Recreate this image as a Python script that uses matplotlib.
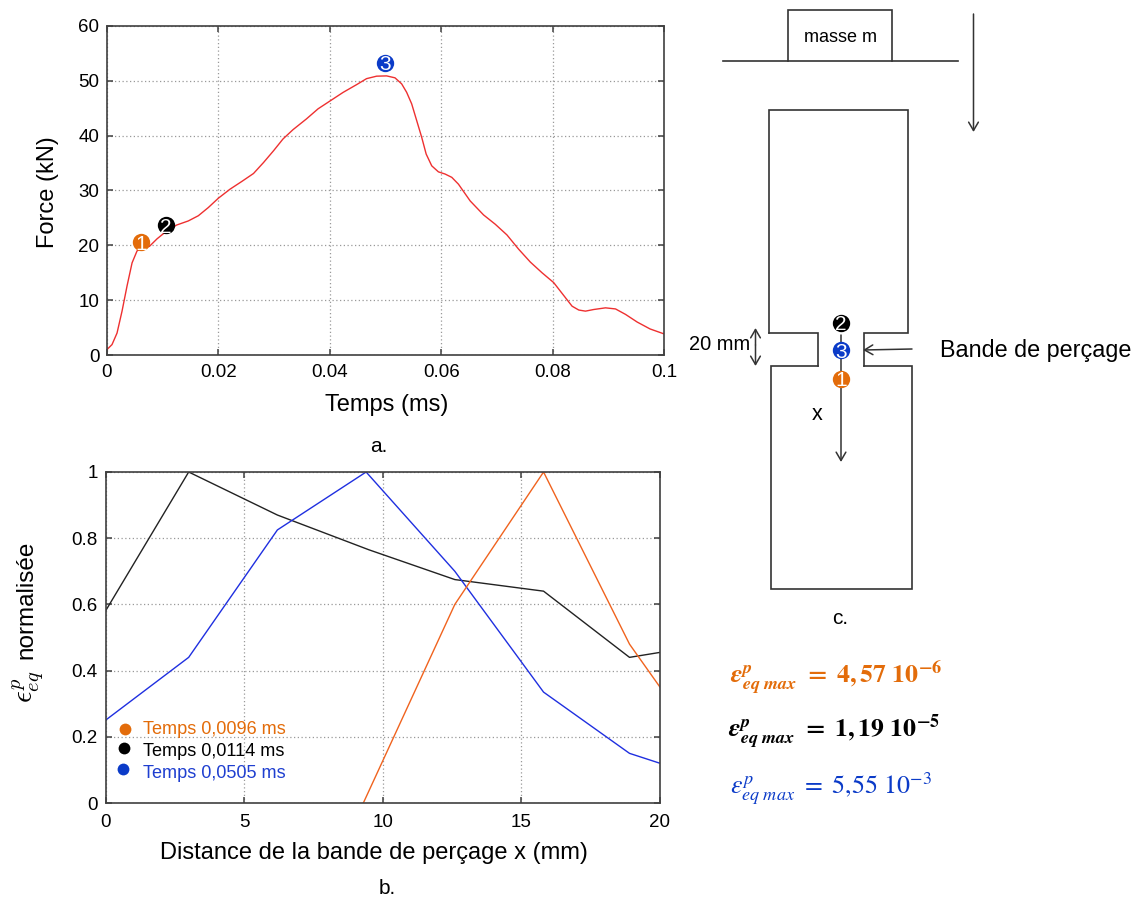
import matplotlib
matplotlib.use("Agg")
import matplotlib.pyplot as plt

plt.rcParams['font.family'] = ['Liberation Sans', 'DejaVu Sans']

W, H = 1139, 899
ORANGE = '#E36C0A'
BLACK = '#000000'
BLUE = '#0B3BC8'

# Force curve
force_t = [0, 0.0009, 0.0018, 0.0027, 0.0036, 0.0045, 0.0054, 0.0066, 0.0076, 0.009, 0.0107, 0.0125,
           0.0146, 0.0164, 0.0182, 0.02, 0.0221, 0.0242, 0.0263, 0.0281, 0.0299, 0.0316, 0.0334,
           0.0358, 0.0379, 0.04, 0.0424, 0.0448, 0.0466, 0.0484, 0.0502, 0.0517, 0.0529, 0.0538,
           0.0547, 0.0556, 0.0565, 0.0573, 0.0583, 0.0595, 0.0607, 0.0619, 0.0631, 0.0652, 0.0676,
           0.0697, 0.0718, 0.0739, 0.076, 0.0781, 0.0802, 0.082, 0.0835, 0.0847, 0.0859, 0.0874,
           0.0895, 0.0913, 0.0931, 0.0952, 0.0975, 0.1]
force_kn = [1, 1.9, 4, 8, 12.6, 16.8, 19, 19.6, 19.8, 21.2, 22.6, 23.7,
            24.45, 25.4, 26.9, 28.6, 30.25, 31.65, 33.1, 35.1, 37.25, 39.4, 41.1,
            43.05, 44.9, 46.3, 47.9, 49.3, 50.4, 50.85, 50.9, 50.55, 49.45, 47.9,
            45.8, 42.75, 39.7, 36.65, 34.5, 33.4, 33, 32.4, 31.15, 28.1, 25.55,
            23.85, 21.9, 19.3, 16.95, 15, 13.2, 10.85, 8.9, 8.2, 8, 8.3,
            8.6, 8.4, 7.4, 6, 4.75, 3.85]
pts_t = [0.0061, 0.0106, 0.0499]
pts_f = [20.6, 23.7, 53.3]
pts_labels = ['1', '2', '3']
pts_colors = [ORANGE, BLACK, BLUE]

# Normalised strain
x_black = [0, 3, 6.2, 9.5, 12.6, 15.8, 18.9, 20]
y_black = [0.58, 1, 0.87, 0.765, 0.675, 0.64, 0.44, 0.455]
x_blue = [0, 3, 6.2, 9.4, 12.6, 15.8, 18.9, 20]
y_blue = [0.25, 0.44, 0.825, 1, 0.70, 0.335, 0.15, 0.12]
x_orange = [9.3, 12.6, 15.8, 18.9, 20]
y_orange = [0, 0.60, 1, 0.48, 0.35]
legend_labels = ['Temps 0,0096 ms', 'Temps 0,0114 ms', 'Temps 0,0505 ms']


def axes_px(fig, l, t, r, b):
    return fig.add_axes([l / W, 1 - b / H, (r - l) / W, (b - t) / H])


def style(ax, xpad):
    for s in ax.spines.values():
        s.set_color('#404040')
        s.set_linewidth(1.2)
    ax.grid(True, color='#999999', linestyle=(0, (1, 2)), linewidth=0.9)
    ax.tick_params(direction='in', length=4.5, width=1.1, color='#404040',
                   labelsize=13.5, top=True, right=True)
    ax.tick_params(axis='x', pad=xpad)
    ax.tick_params(axis='y', pad=5.5)
    ax.set_axisbelow(True)


fig = plt.figure(figsize=(W / 100, H / 100), dpi=100, facecolor='white')

# Panel a
ax1 = axes_px(fig, 107, 26, 664, 355)
style(ax1, 6.5)
ax1.plot(force_t, force_kn, color='#EE3030', lw=1.0)
ax1.set_xlim(0, 0.1)
ax1.set_ylim(0, 60)
ax1.set_xticks([0, 0.02, 0.04, 0.06, 0.08, 0.1])
ax1.set_xticklabels(['0', '0.02', '0.04', '0.06', '0.08', '0.1'])
ax1.set_yticks(range(0, 61, 10))
for t, f, s, c in zip(pts_t, pts_f, pts_labels, pts_colors):
    ax1.plot([t], [f], 'o', ms=12.5, color=c, mec='none', zorder=4)
    ax1.text(t, f, s, color='white', ha='center', va='center_baseline', fontsize=15, zorder=5)

# Panel b
ax2 = axes_px(fig, 105.5, 472, 660, 803)
style(ax2, 8)
ax2.plot(x_black, y_black, color='#222222', lw=1.0)
ax2.plot(x_blue, y_blue, color='#1F2FE0', lw=1.0)
ax2.plot(x_orange, y_orange, color='#F0631E', lw=1.0)
ax2.set_xlim(0, 20)
ax2.set_ylim(0, 1)
ax2.set_xticks([0, 5, 10, 15, 20])
ax2.set_yticks([0, 0.2, 0.4, 0.6, 0.8, 1])
ax2.set_yticklabels(['0', '0.2', '0.4', '0.6', '0.8', '1'])

# Overlay in pixel coordinates for labels and the specimen sketch
ov = fig.add_axes([0, 0, 1, 1], facecolor='none')
ov.set_xlim(0, W)
ov.set_ylim(H, 0)
ov.axis('off')

ov.text(48, 192, 'Force (kN)', rotation=90, ha='center', va='center', fontsize=17)
ov.text(387, 405, 'Temps (ms)', ha='center', va='center', fontsize=17)
ov.text(379, 447, 'a.', ha='center', va='center', fontsize=15)
ov.text(374, 853, 'Distance de la bande de perçage x (mm)', ha='center', va='center', fontsize=17)
ov.text(387, 889, 'b.', ha='center', va='center', fontsize=15)
ov.text(28, 687, r'$\epsilon_{eq}^{p}$', rotation=90, ha='center', va='center', fontsize=21,
        math_fontfamily='cm')
ov.text(26, 600, 'normalisée', rotation=90, ha='center', va='center', fontsize=17.5)

for y, cy, cx, lab, c in zip([730, 751, 773], [729, 748, 769], [125, 124, 123], legend_labels,
                             [ORANGE, BLACK, BLUE]):
    ov.plot([cx], [cy], 'o', ms=8.5, color=c, mec='none')
    ov.text(143, y, lab, color=c if c != BLUE else '#1F3FD0', ha='left', va='center', fontsize=13.1)

# Specimen sketch
LC = '#333333'
sk = dict(color=LC, lw=1.2, solid_joinstyle='miter')
ov.plot([723, 958], [61, 61], **sk)
ov.plot([788, 788, 892, 892], [61, 10, 10, 61], **sk)
ov.text(840, 38, 'masse m', ha='center', va='center', fontsize=13)
ov.plot([768.5, 768.5, 908, 908, 863.5, 863.5], [333, 110, 110, 333, 333, 366], **sk)
ov.plot([768.5, 817.5, 817.5], [333, 333, 366], **sk)
ov.plot([817.5, 771, 771, 911.5, 911.5, 863.5], [366, 366, 589, 589, 366, 366], **sk)


def arrow(p0, p1):
    ov.annotate('', xy=p1, xytext=p0,
                arrowprops=dict(arrowstyle='->,head_length=0.6,head_width=0.35', color=LC, lw=1.1,
                                shrinkA=0, shrinkB=0))


arrow((973.5, 14), (973.5, 132))
arrow((841, 335), (841, 462))
arrow((912, 349), (863, 350))
arrow((755.5, 345), (755.5, 328))
arrow((755.5, 345), (755.5, 366))

for cy, s, c in zip([323, 350, 379], ['2', '3', '1'], [BLACK, BLUE, ORANGE]):
    ov.plot([841], [cy], 'o', ms=12.5, color=c, mec='none', zorder=4)
    ov.text(841, cy, s, color='white', ha='center', va='center_baseline', fontsize=15, zorder=5)

ov.text(720, 345, '20 mm', ha='center', va='center', fontsize=14.4)
ov.text(817, 414, 'x', ha='center', va='center', fontsize=15.5)
ov.text(1036, 350, 'Bande de perçage', ha='center', va='center', fontsize=16.8)
ov.text(840, 618, 'c.', ha='center', va='center', fontsize=15)

ov.text(730, 678, r'$\boldsymbol{\epsilon}_{\boldsymbol{eq\ max}}^{\boldsymbol{p}}\ \mathbf{=\ 4,57\ 10^{-6}}$',
        color=ORANGE, ha='left', va='center', fontsize=18.6, math_fontfamily='stix')
ov.text(728, 732, r'$\boldsymbol{\epsilon}_{\boldsymbol{eq\ max}}^{\boldsymbol{p}}\ \mathbf{=\ 1,19\ 10^{-5}}$',
        color=BLACK, ha='left', va='center', fontsize=18.6, math_fontfamily='stix')
ov.text(730, 789, r'$\epsilon_{eq\ max}^{p}\ =\ 5{,}55\ 10^{-3}$',
        color=BLUE, ha='left', va='center', fontsize=18.6, math_fontfamily='stix')

fig.savefig('out.png', dpi=100, facecolor='white')
